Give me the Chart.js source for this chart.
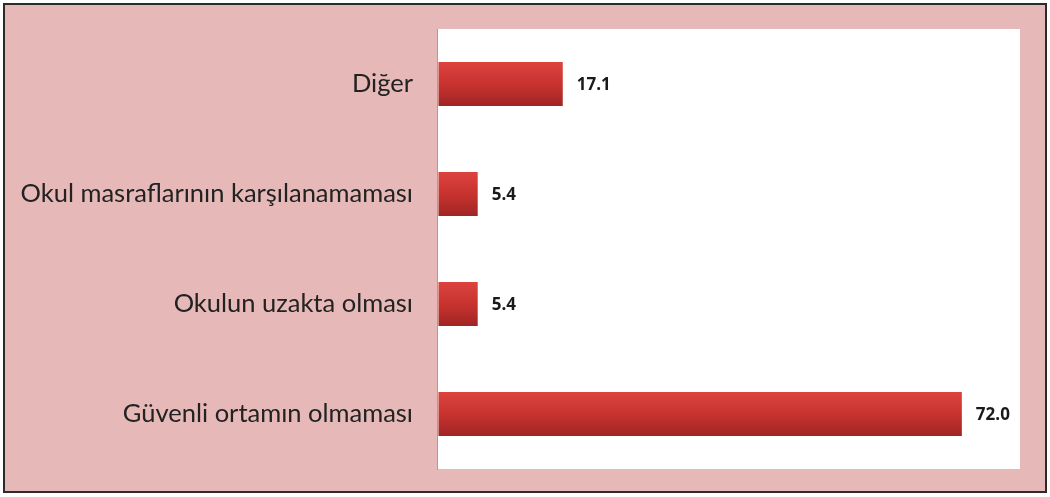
<!DOCTYPE html>
<html>
<head>
<meta charset="utf-8">
<script src="https://cdn.jsdelivr.net/npm/chart.js@4/dist/chart.umd.min.js"></script>
<style>
  html, body { margin: 0; padding: 0; background: #fff; }
  #wrap { position: relative; width: 1050px; height: 497px; }
  #frame { position: absolute; left: 3px; top: 3px; width: 1040px; height: 486px;
           border: 2px solid #2b2b2b; background: #e6b9b8; }
  #chart { position: absolute; left: 0; top: 0; }
</style>
</head>
<body>
<div id="wrap">
  <div id="frame"></div>
  <canvas id="chart" width="1050" height="497"></canvas>
</div>
<script>
// Data, top to bottom as in the picture
const categories = ['Diğer', 'Okul masraflarının karşılanamaması', 'Okulun uzakta olması', 'Güvenli ortamın olmaması'];
const values = [17.1, 5.4, 5.4, 72.0];

// white plot background
const plotBg = {
    id: 'plotBg',
    beforeDraw(chart) {
        const a = chart.chartArea;
        const ctx = chart.ctx;
        ctx.save();
        ctx.fillStyle = '#ffffff';
        ctx.fillRect(a.left, a.top, a.right - a.left, a.bottom - a.top);
        ctx.restore();
    }
};

// value labels to the right of each bar
const valueLabels = {
    id: 'valueLabels',
    afterDatasetsDraw(chart) {
        const ctx = chart.ctx;
        const meta = chart.getDatasetMeta(0);
        ctx.save();
        ctx.font = 'bold 17px "Open Sans"';
        ctx.fillStyle = '#1a1a1a';
        ctx.textBaseline = 'middle';
        meta.data.forEach(function(bar, i) {
            ctx.fillText(values[i].toFixed(1), bar.x + 14, bar.y + 1);
        });
        ctx.restore();
    }
};

function barGradient(context) {
    const chart = context.chart;
    if (!chart.chartArea) return '#c0392f';
    const y = chart.scales.y.getPixelForValue(context.dataIndex);
    const g = chart.ctx.createLinearGradient(0, y - 22, 0, y + 22);
    g.addColorStop(0, '#dc433f');
    g.addColorStop(0.5, '#c8332f');
    g.addColorStop(1, '#a02523');
    return g;
}

const ctx = document.getElementById('chart').getContext('2d');
new Chart(ctx, {
    type: 'bar',
    data: {
        labels: categories,
        datasets: [{
            data: values,
            backgroundColor: barGradient,
            borderWidth: 0,
            barPercentage: 0.4,
            categoryPercentage: 1.0
        }]
    },
    options: {
        indexAxis: 'y',
        responsive: false,
        animation: false,
        layout: { padding: { left: 0, right: 30, top: 29, bottom: 28 } },
        plugins: {
            legend: { display: false },
            tooltip: { enabled: false }
        },
        scales: {
            x: {
                display: false,
                min: -0.2,
                max: 80
            },
            y: {
                grid: { display: false },
                border: { display: true, color: '#a0a0a0', width: 1 },
                ticks: {
                    color: '#222',
                    padding: 16,
                    font: { family: 'Lato', size: 25.5, lineHeight: 0.6 }
                },
                afterFit(scale) { scale.width = 437; }
            }
        }
    },
    plugins: [plotBg, valueLabels]
});
</script>
</body>
</html>
